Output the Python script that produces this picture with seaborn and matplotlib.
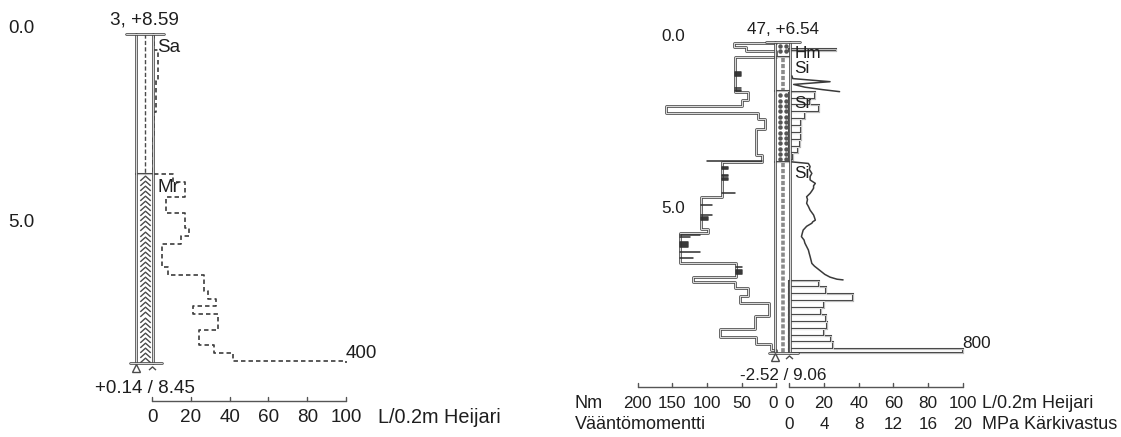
import matplotlib
matplotlib.use("Agg")
import matplotlib.pyplot as plt
from matplotlib.path import Path
import numpy as np
import seaborn as sns

sns.set_style("white")
plt.rcParams["font.family"] = ["Liberation Sans", "DejaVu Sans"]
plt.rcParams["lines.scale_dashes"] = False

LINE = "#4a4a4a"
TEXT = "#1e1e1e"

# ---- point 3 (left log) ----
p3_title = "3, +8.59"
p3_bottom = "+0.14 / 8.45"
p3_end = 8.45
p3_layer_top = [0.0, 3.6]
p3_layer_name = ["Sa", "Mr"]
# Heijari L/0.2m, step boundaries and values
p3_hj_depth = [0.0, 0.4, 1.2, 2.0, 2.6, 3.6, 3.8, 4.2, 4.6, 5.0, 5.2, 5.4,
               6.0, 6.2, 6.6, 6.8, 7.0, 7.2, 7.6, 8.0, 8.2, 8.4, 8.45]
p3_hj_value = [1, 3, 2, 1, 0.5, 11, 17, 7, 17, 19, 15, 5,
               8, 27, 29, 33, 21, 34, 24, 32, 42, 400]

# ---- point 47 (right log) ----
p47_title = "47, +6.54"
p47_bottom = "-2.52 / 9.06"
p47_end = 9.06
p47_layer_top = [0.0, 0.45, 1.45, 3.5]
p47_layer_name = ["Hm", "Si", "Sr", "Si"]

# torque (Nm), step segments
torque_top = [0.05, 0.17, 0.27, 0.45, 1.46, 1.70, 1.88, 2.07, 2.26, 2.55, 3.30, 3.50, 4.52,
              5.46, 5.57, 6.44, 6.86, 6.99, 7.18, 7.41, 7.60, 7.99, 8.38, 8.59, 8.81, 8.98]
torque_bot = [0.17, 0.27, 0.45, 1.46, 1.70, 1.88, 2.07, 2.26, 2.55, 3.30, 3.50, 4.52, 5.46,
              5.57, 6.44, 6.86, 6.99, 7.18, 7.41, 7.60, 7.99, 8.38, 8.59, 8.81, 8.98, 9.06]
torque_nm = [61, 43, 0, 59, 41, 50, 159, 27, 17, 29, 20, 79, 108,
             99, 139, 58, 120, 60, 41, 52, 11, 31, 81, 29, 7, 0]
# short marks on the torque curve (depth, Nm at inner end)
mark_depth = [0.88, 0.91, 0.94, 0.97, 1.00, 1.36, 1.40, 1.43, 3.49,
              3.64, 3.67, 3.70, 3.88, 3.92, 3.96, 4.00, 4.04, 4.42,
              4.76, 5.05, 5.10, 5.13, 5.16, 5.19,
              5.63, 5.70, 5.83, 5.86, 5.89, 5.92, 5.95, 5.98, 6.12, 6.30,
              6.56, 6.66, 6.69, 6.72, 6.75, 6.78]
mark_nm = [51, 51, 51, 51, 51, 51, 51, 51, 100,
           70, 70, 70, 70, 70, 70, 70, 70, 60,
           92, 92, 98, 98, 98, 98,
           110, 125, 128, 128, 128, 128, 128, 128, 110, 120,
           50, 50, 50, 50, 50, 50]

# cone resistance (MPa)
cpt1_depth = [1.00, 1.08, 1.17, 1.25, 1.33, 1.40, 1.46]
cpt1_mpa = [0.3, 0.4, 4.7, 0.5, 1.8, 3.8, 5.8]
cpt2_depth = [3.50, 3.55, 3.64, 3.72, 3.84, 3.93, 4.03, 4.13, 4.20, 4.27, 4.35, 4.42,
              4.52, 4.60, 4.71, 4.80, 4.91, 4.98, 5.05, 5.12, 5.20, 5.25, 5.29, 5.38,
              5.49, 5.58, 5.68, 5.78, 5.87, 5.97, 6.07, 6.17, 6.26, 6.36, 6.46, 6.54,
              6.60, 6.66, 6.70, 6.78, 6.86, 6.92, 6.94]
cpt2_mpa = [0.1, 2.2, 2.4, 2.3, 2.6, 2.4, 2.4, 3.0, 2.8, 2.8, 2.6, 2.4,
            2.0, 2.1, 2.0, 2.2, 2.4, 2.6, 2.8, 2.9, 3.0, 2.7, 2.6, 2.0,
            1.6, 1.5, 1.4, 1.7, 1.8, 2.0, 2.2, 2.3, 2.4, 2.5, 2.6, 2.9,
            3.2, 3.5, 3.7, 4.1, 4.7, 5.5, 6.2]

# Heijari bars (L/0.2m)
hj_top = [0.22, 1.46, 1.66, 1.86, 2.06, 2.26, 2.46, 2.66, 2.86, 3.06, 3.26,
          6.96, 7.16, 7.36, 7.56, 7.76, 7.96, 8.16, 8.36, 8.56, 8.76, 8.96]
hj_bot = [0.27, 1.66, 1.86, 2.06, 2.26, 2.46, 2.66, 2.86, 3.06, 3.26, 3.46,
          7.16, 7.36, 7.56, 7.76, 7.96, 8.16, 8.36, 8.56, 8.76, 8.96, 9.06]
hj_value = [27, 15, 12, 17, 9, 7, 7, 7, 6, 5, 2,
            17, 21, 37, 20, 18, 21, 22, 20, 24, 25, 800]

depth_ticks = [0.0, 5.0]
hj_ticks = [0, 20, 40, 60, 80, 100]
nm_ticks = [200, 150, 100, 50, 0]
mpa_ticks = [0, 4, 8, 12, 16, 20]

COL_L, COL_R = -8.0, 0.6
NM0, NM_SCALE = -7.5, 0.4
MPA_SCALE = 5.0
LABEL_X = -74.0


def nm_x(nm):
    return NM0 - NM_SCALE * np.asarray(nm, dtype=float)


def line(ax, x, y, **kw):
    sns.lineplot(x=list(x), y=list(y), sort=False, estimator=None, ax=ax, **kw)


def dline(ax, x, y, lw=1.9):
    line(ax, x, y, color=LINE, lw=lw)
    line(ax, x, y, color="white", lw=lw * 0.3)


chev = Path([(-1, -0.45), (0, 0.45), (1, -0.45)],
            [Path.MOVETO, Path.LINETO, Path.LINETO])


def column(ax, layer_top, layer_name, end, fs, cap):
    bounds = layer_top[1:] + [end]
    xc = (COL_L + COL_R) / 2
    for t, b, name in zip(layer_top, bounds, layer_name):
        if name == "Sa":
            line(ax, [xc, xc], [t, b], color=LINE, lw=1.0, linestyle=(0, (3, 1.6)))
        elif name == "Mr":
            yy = np.arange(t + 0.1, b - 0.02, 0.13)
            ax.plot(np.full(len(yy), xc), yy, ls="none", marker=chev, ms=7.5,
                    mec=LINE, mfc="none", mew=1.0)
        elif name in ("Hm", "Sr"):
            yy = np.arange(t + 0.12, b - 0.05, 0.155)
            for xx in (xc - 1.9, xc + 1.9):
                ax.plot(np.full(len(yy), xx), yy, ls="none", marker="o", ms=2.2,
                        mec="#555555", mfc="#555555")
        elif name == "Si":
            line(ax, [xc, xc], [t + 0.03, b], color="#8a8a8a", lw=2.6,
                 linestyle=(0, (3.0, 1.3)))
        ax.text(COL_R + 2.2, t + 0.35, name, ha="left", va="center", fontsize=fs,
                color=TEXT)
        if t > 0:
            dline(ax, [COL_L, COL_R], [t, t], lw=1.5)
    dline(ax, [COL_L, COL_L], [0, end])
    dline(ax, [COL_R, COL_R], [0, end])
    dline(ax, [-13.5, 6.0], [0, 0])
    dline(ax, [-11.5, 5.0], [end, end])
    ax.plot([COL_L], [end + 0.13], marker="^", ms=5.5, mfc="white", mec=LINE, mew=1.0)
    ax.plot([COL_R - 0.6], [end + 0.13], marker=chev, ms=5, mfc="none", mec=LINE, mew=1.0)
    xm = (COL_L + COL_R) / 2
    ax.text(xm, -0.35, cap[0], ha="center", va="center", fontsize=fs, color=TEXT)
    ax.text(xm, end + 0.66, cap[1], ha="center", va="center", fontsize=fs, color=TEXT)
    for d in depth_ticks:
        ax.text(LABEL_X, d - 0.15, f"{d:.1f}", ha="left", va="center", fontsize=fs,
                color=TEXT)


def hbar_axis(ax, y, xs, lo, hi):
    ax.plot([lo, hi], [y, y], color="#555555", lw=1.0)
    for x in xs:
        ax.plot([x, x], [y, y - 0.1], color="#555555", lw=1.0)


fig = plt.figure(figsize=(11.21, 4.37), dpi=100)

# ---------- left panel ----------
axL = fig.add_axes([0, 0, 560 / 1121, 1])
FS_L = 13.6
FS_LU = 14.3
xs, ys = [], []
for i, v in enumerate(p3_hj_value):
    xs += [min(v, 100), min(v, 100)]
    ys += [p3_hj_depth[i], p3_hj_depth[i + 1]]
line(axL, xs, ys, color="#3c3c3c", lw=1.2, linestyle=(0, (3.2, 2.2)))
axL.text(100, p3_end - 0.02, str(p3_hj_value[-1]), ha="left", va="bottom",
         fontsize=FS_L, color=TEXT)
column(axL, p3_layer_top, p3_layer_name, p3_end, FS_L, (p3_title, p3_bottom))
hbar_axis(axL, 9.43, hj_ticks, 0, 100)
for t in hj_ticks:
    axL.text(t, 9.87, str(t), ha="center", va="center", fontsize=FS_L, color=TEXT)
axL.text(116.5, 9.87, "L/0.2m Heijari", ha="left", va="center", fontsize=FS_LU,
         color=TEXT)
axL.set_xlim((0 - 152) / 1.94, (560 - 152) / 1.94)
axL.set_ylim((437 - 34) / 38.9, (0 - 34) / 38.9)
axL.axis("off")

# ---------- right panel ----------
axR = fig.add_axes([560 / 1121, 0, 561 / 1121, 1])
FS_R = 12.3
FS_RU = 13.0

# heijari bars
vals = np.minimum(hj_value, 100)
tops = np.array(hj_top)
bots = np.array(hj_bot)
axR.barh(y=(tops + bots) / 2, width=vals, height=bots - tops, left=0,
         color="white", edgecolor=LINE, lw=1.5, zorder=2)
axR.barh(y=(tops + bots) / 2, width=vals, height=bots - tops, left=0,
         fill=False, edgecolor="white", lw=0.45, zorder=2)
axR.text(100, p47_end - 0.05, str(hj_value[-1]), ha="left", va="bottom",
         fontsize=FS_R, color=TEXT)

# torque outline
tx, ty = [nm_x(0)], [torque_top[0]]
for t, b, v in zip(torque_top, torque_bot, torque_nm):
    tx += [nm_x(v), nm_x(v)]
    ty += [t, b]
tx.append(nm_x(0))
ty.append(torque_bot[-1])
dline(axR, tx, ty, lw=1.9)
for d, m in zip(mark_depth, mark_nm):
    k = int(np.searchsorted(torque_bot, d))
    axR.plot([nm_x(torque_nm[k]), nm_x(m)], [d, d], color="#2e2e2e", lw=1.1)

# cone resistance
line(axR, np.array(cpt1_mpa) * MPA_SCALE, cpt1_depth, color="#3a3a3a", lw=1.1)
line(axR, np.array(cpt2_mpa) * MPA_SCALE, cpt2_depth, color="#3a3a3a", lw=1.1)

column(axR, p47_layer_top, p47_layer_name, p47_end, FS_R, (p47_title, p47_bottom))

hbar_axis(axR, 10.05, nm_x(nm_ticks), nm_x(200), nm_x(0))
hbar_axis(axR, 10.05, hj_ticks, 0, 100)
for n in nm_ticks:
    xn = nm_x(n) - (1.8 if n == 0 else 0)
    axR.text(xn, 10.53, str(n), ha="center", va="center", fontsize=FS_R, color=TEXT)
for t in hj_ticks:
    axR.text(t, 10.53, str(t), ha="center", va="center", fontsize=FS_R, color=TEXT)
for m in mpa_ticks:
    axR.text(m * MPA_SCALE, 11.14, str(m), ha="center", va="center", fontsize=FS_R,
             color=TEXT)
axR.text(-123.6, 10.53, "Nm", ha="left", va="center", fontsize=FS_RU, color=TEXT)
axR.text(-123.6, 11.14, "Vääntömomentti", ha="left", va="center", fontsize=FS_RU,
         color=TEXT)
axR.text(111.0, 10.53, "L/0.2m Heijari", ha="left", va="center", fontsize=FS_RU,
         color=TEXT)
axR.text(111.0, 11.14, "MPa Kärkivastus", ha="left", va="center", fontsize=FS_RU,
         color=TEXT)
axR.set_xlim((560 - 789.3) / 1.734, (1121 - 789.3) / 1.734)
axR.set_ylim((437 - 41.5) / 34.35, (0 - 41.5) / 34.35)
axR.axis("off")

fig.savefig("out.png", dpi=100)
